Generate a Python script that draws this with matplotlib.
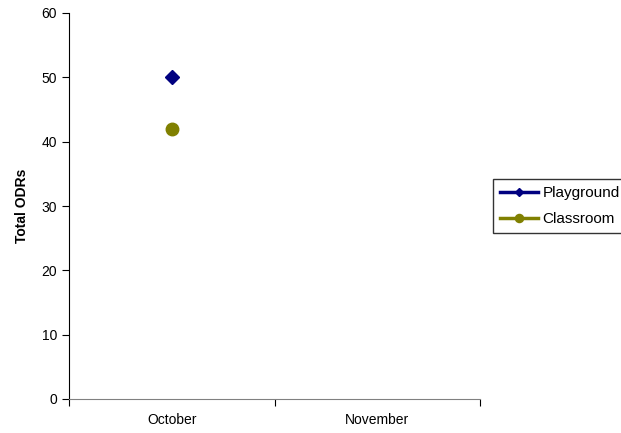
import numpy as np
import matplotlib
matplotlib.use("Agg")
import matplotlib.pyplot as plt
from matplotlib.ticker import FixedLocator

months = ["October", "November"]
playground = [50, np.nan]
classroom = [42, np.nan]

plt.rcParams['font.family'] = ['Liberation Sans', 'DejaVu Sans']

fig = plt.figure(figsize=(6.21, 4.33), dpi=100)
ax = fig.add_axes([69/621, 34/433, 411/621, 386/433])

x = np.arange(len(months)) + 0.5
ax.plot(x, playground, color='#000080', marker='D', markersize=7, lw=2.5, label='Playground')
ax.plot(x, classroom, color='#808000', marker='o', markersize=9, lw=2.5, label='Classroom')

ax.set_xlim(0, len(months))
ax.set_ylim(0, 60)
ax.set_yticks(range(0, 61, 10))
ax.xaxis.set_major_locator(FixedLocator(range(len(months) + 1)))
ax.xaxis.set_major_formatter(plt.NullFormatter())
ax.xaxis.set_minor_locator(FixedLocator(x))
ax.set_xticklabels(months, minor=True)
ax.tick_params(axis='x', which='minor', length=0, pad=10, labelsize=10)
ax.tick_params(axis='x', which='major', length=5, direction='out')
ax.tick_params(axis='y', length=5, direction='out', labelsize=10)
for s in ['top', 'right']:
    ax.spines[s].set_visible(False)
ax.spines['bottom'].set_color('#808080')
ax.set_ylabel('Total ODRs', fontsize=10, fontweight='bold', labelpad=9)

leg = fig.legend(loc='upper left', bbox_to_anchor=(493/621, 1 - 179/433),
                 fontsize=11, frameon=True, fancybox=False, edgecolor='black',
                 borderpad=0.45, handlelength=2.5, handletextpad=0.3, labelspacing=0.8,
                 borderaxespad=0, markerscale=0.65)
leg.get_frame().set_linewidth(1)

fig.savefig('out.png', dpi=100)
